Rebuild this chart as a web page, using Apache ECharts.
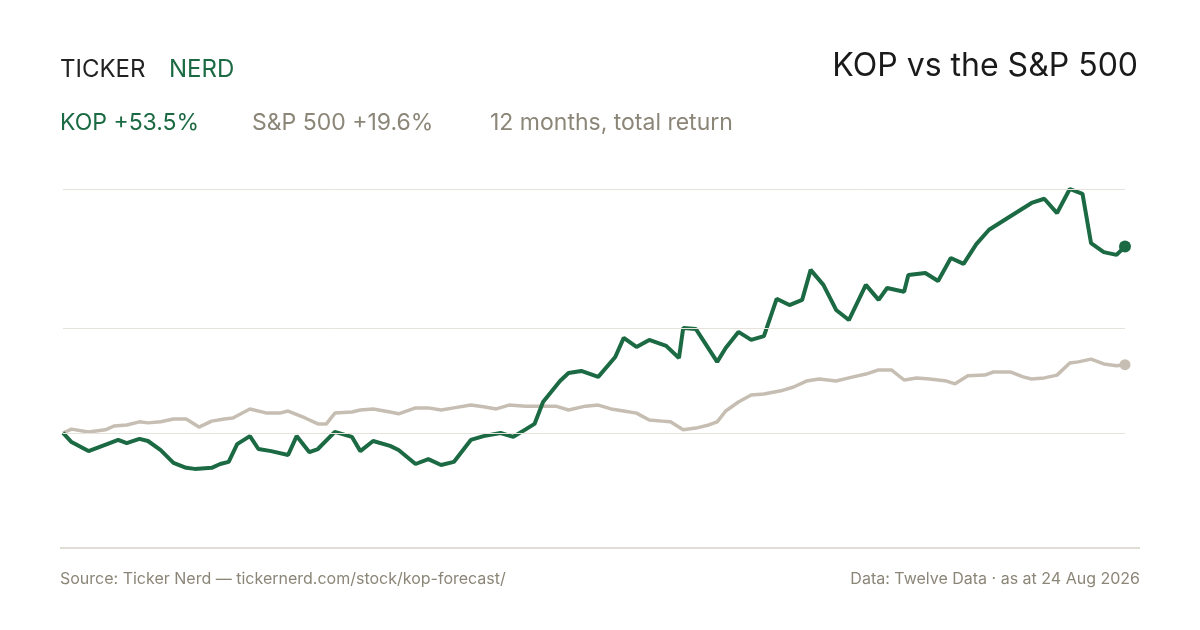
<!DOCTYPE html>
<html lang="en">
<head>
<meta charset="UTF-8">
<title>KOP vs the S&amp;P 500</title>
<script src="https://cdn.jsdelivr.net/npm/echarts@6/dist/echarts.min.js"></script>
</head>
<body style="margin:0;background:#fff">
<div id="chart" style="width:1200px;height:630px"></div>
<script>
// trading-day index and % total return
var kopDays = [0,2,6,11,13,15,18,20,23,26,29,31,35,37,39,41,44,46,49,53,55,58,60,64,68,70,73,77,79,83,86,89,92,96,99,103,106,109,111,113,117,119,122,126,130,132,135,138,142,145,146,149,154,156,159,162,165,168,171,174,176,179,182,185,189,192,194,198,199,203,206,209,212,215,218,222,225,228,231,234,237,240,242,245,248,250];
var kopRet = [0,-2.6,-5.2,-2.9,-2.0,-2.9,-1.7,-2.3,-4.9,-8.6,-10.0,-10.3,-10.0,-8.9,-8.3,-3.2,-0.9,-4.6,-5.2,-6.3,-0.9,-5.5,-4.6,0.3,-1.1,-5.2,-2.3,-3.7,-4.9,-8.9,-7.5,-9.2,-8.3,-2.0,-0.9,0,-1.1,1.1,2.6,8.9,14.9,17.2,17.8,16.1,21.8,27.3,24.7,26.7,25.0,21.5,30.1,29.8,20.4,24.4,29.0,26.7,27.8,38.5,36.7,38.2,46.8,42.5,35.3,32.4,42.5,38.2,41.6,40.5,45.3,45.9,43.6,50.2,48.5,54.2,58.3,61.4,63.7,66.0,67.2,63.1,70.0,68.6,54.5,51.9,51.1,53.5];
var spxDays = [0,2,6,10,12,15,18,20,23,26,29,32,35,38,40,44,48,51,53,57,60,62,64,68,70,73,77,79,83,86,89,92,96,99,102,105,109,112,116,119,123,126,129,132,135,138,141,143,146,149,152,154,156,159,162,165,169,172,175,178,182,185,189,192,195,198,201,204,208,210,213,217,219,223,226,228,231,234,237,239,242,245,248,250];
var spxRet = [0,1.1,0.3,0.9,2.0,2.3,3.2,2.9,3.2,4.0,4.0,1.7,3.4,4.0,4.3,6.9,5.7,5.7,6.3,4.3,2.6,2.6,5.7,6.0,6.6,6.9,6.0,5.5,7.2,7.2,6.6,7.2,8.0,7.5,6.9,8.0,7.7,7.7,7.7,6.6,7.7,8.0,6.9,6.3,5.7,3.7,3.4,3.2,0.9,1.4,2.3,3.2,6.3,8.9,10.9,11.2,12.1,13.2,14.9,15.5,14.9,15.8,16.9,18.1,18.1,15.2,15.8,15.5,14.9,14.1,16.4,16.6,17.5,17.5,16.1,15.5,15.8,16.6,20.1,20.4,21.2,19.8,19.3,19.6];
var gridValues = [0, 30, 70];

var green = '#1b6a43', grey = '#c6beb2', muted = '#8b8678';
function pairs(d, v) { return d.map(function (x, i) { return [x, v[i]]; }); }
function endDot(d, v, c) {
    return { coord: [d[d.length - 1], v[v.length - 1]], itemStyle: { color: c } };
}

var chart = echarts.init(document.getElementById('chart'));
chart.setOption({
    animation: false,
    textStyle: { fontFamily: 'Inter, Roboto, sans-serif' },
    grid: { left: 63, right: 75, top: 189, bottom: 82 },
    xAxis: { type: 'value', min: 0, max: 250, show: false },
    yAxis: { type: 'value', min: -33, max: 70, show: false },
    graphic: [
        { type: 'text', left: 60, top: 58, style: { text: 'TICKER', fontSize: 24, fill: '#222', fontFamily: 'Inter', letterSpacing: 2 } },
        { type: 'text', left: 169, top: 58, style: { text: 'NERD', fontSize: 24, fill: green, fontFamily: 'Inter', letterSpacing: 2 } },
        { type: 'text', right: 62, top: 50, style: { text: 'KOP vs the S&P 500', fontSize: 32, fill: '#1a1a1a', fontFamily: 'Inter' } },
        { type: 'text', left: 60, top: 112, style: { text: 'KOP +53.5%', fontSize: 23, fill: green, fontFamily: 'Inter' } },
        { type: 'text', left: 252, top: 112, style: { text: 'S&P 500 +19.6%', fontSize: 23, fill: muted, fontFamily: 'Inter' } },
        { type: 'text', left: 490, top: 112, style: { text: '12 months, total return', fontSize: 23, fill: muted, fontFamily: 'Inter' } },
        { type: 'line', shape: { x1: 60, y1: 548, x2: 1140, y2: 548 }, style: { stroke: '#d6d2c8', lineWidth: 1.5 } },
        { type: 'text', left: 60, top: 571, style: { text: 'Source: Ticker Nerd \u2014 tickernerd.com/stock/kop-forecast/', fontSize: 16, fill: muted, fontFamily: 'Inter' } },
        { type: 'text', right: 60, top: 571, style: { text: 'Data: Twelve Data \u00b7 as at 24 Aug 2026', fontSize: 16, fill: muted, fontFamily: 'Inter' } }
    ],
    series: [
        {
            type: 'line', data: pairs(spxDays, spxRet), symbol: 'none',
            lineStyle: { color: grey, width: 3.5 }, z: 2,
            markLine: {
                silent: true, symbol: 'none', label: { show: false },
                lineStyle: { color: '#e6e3dc', width: 1, type: 'solid' },
                data: gridValues.map(function (v) { return { yAxis: v }; })
            },
            markPoint: { symbol: 'circle', symbolSize: 11, label: { show: false }, data: [endDot(spxDays, spxRet, grey)] }
        },
        {
            type: 'line', data: pairs(kopDays, kopRet), symbol: 'none',
            lineStyle: { color: green, width: 4 }, z: 3,
            markPoint: { symbol: 'circle', symbolSize: 12, label: { show: false }, data: [endDot(kopDays, kopRet, green)] }
        }
    ]
});
</script>
</body>
</html>
